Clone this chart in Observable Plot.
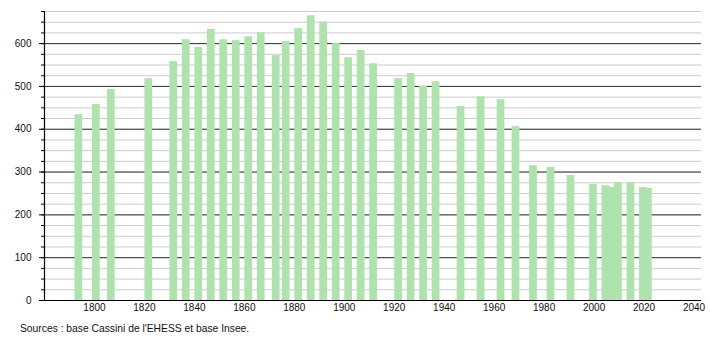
<!DOCTYPE html>
<html>
<head>
<meta charset="utf-8">
<script src="https://cdn.jsdelivr.net/npm/d3@7"></script>
<script src="https://cdn.jsdelivr.net/npm/@observablehq/plot@0.6"></script>
<style>
  body { margin: 0; background: #fff; font-family: "Liberation Sans", Arial, sans-serif; }
  #caption { font-size: 10.3px; line-height: 14px; margin: 4px 0 0 20px; color: #111; }
</style>
</head>
<body>
<div id="chart"></div>
<div id="caption">Sources : base Cassini de l'EHESS et base Insee.</div>
<script>
const years = [1793, 1800, 1806, 1821, 1831, 1836, 1841, 1846, 1851, 1856, 1861, 1866,
  1872, 1876, 1881, 1886, 1891, 1896, 1901, 1906, 1911, 1921, 1926, 1931, 1936, 1946,
  1954, 1962, 1968, 1975, 1982, 1990, 1999, 2004, 2007, 2009, 2014, 2019, 2021];
const population = [434, 458, 493, 518, 558, 609, 591, 633, 609, 607, 616, 625,
  572, 605, 635, 665, 650, 600, 567, 584, 553, 518, 530, 500, 511, 453,
  476, 469, 406, 315, 311, 292, 271, 268, 264, 275, 275, 264, 262];
const xTicks = [1800, 1820, 1840, 1860, 1880, 1900, 1920, 1940, 1960, 1980, 2000, 2020, 2040];
const yTicks = [0, 100, 200, 300, 400, 500, 600];
const yMinorTicks = d3.range(0, 676, 25);

const data = years.map((y, i) => ({year: y, pop: population[i]}));

const chart = Plot.plot({
  width: 710,
  height: 318,
  marginTop: 11,
  marginBottom: 18,
  marginLeft: 44,
  marginRight: 9,
  style: {fontFamily: "'Liberation Sans', Arial, sans-serif", fontSize: "10px", color: "#111"},
  x: {domain: [1780, 2043]},
  y: {domain: [0, 675]},
  marks: [
    Plot.gridY(yMinorTicks, {stroke: "#cccccc", strokeOpacity: 1}),
    Plot.gridY(yTicks, {stroke: "#333", strokeOpacity: 1}),
    Plot.rectY(data, {x1: d => d.year - 0.8, x2: d => d.year + 2.3, y: "pop", fill: "#aee3ae"}),
    Plot.axisY(yMinorTicks, {tickSize: 3, text: null, label: null, stroke: "#000"}),
    Plot.axisY(yTicks, {tickSize: 5, tickPadding: 8, stroke: "#000", label: null, fill: "#111"}),
    Plot.axisX(xTicks, {tickSize: 0, tickPadding: 3, label: null, tickFormat: d => String(d), fill: "#111"}),
    Plot.ruleY([0], {stroke: "#000", strokeWidth: 1.2}),
    Plot.ruleX([1780], {stroke: "#000", strokeWidth: 1.2})
  ]
});
document.getElementById("chart").appendChild(chart);
</script>
</body>
</html>
